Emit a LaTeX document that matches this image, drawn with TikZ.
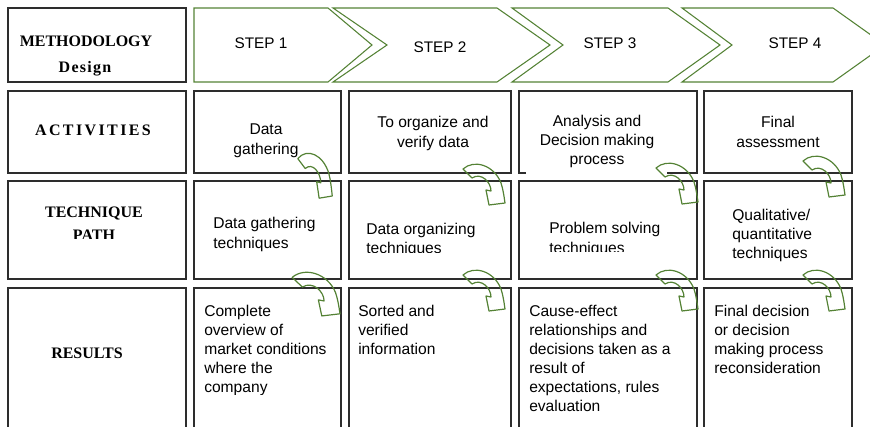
\documentclass[tikz,border=0pt]{standalone}
\usepackage{fontspec}
\newfontfamily\sansf{Liberation Sans}
\newfontfamily\serf{Liberation Serif}
\definecolor{gline}{RGB}{84,130,53}
\definecolor{bline}{RGB}{45,45,45}
\newcommand\bodyl[1]{\parbox[t]{170pt}{\raggedright\sansf\fontsize{11.7pt}{14.3pt}\selectfont #1}}
\newcommand\bodyc[1]{\parbox[t]{170pt}{\centering\sansf\fontsize{11.7pt}{14.3pt}\selectfont #1}}
\newcommand\labf{\serf\bfseries\fontsize{12pt}{17pt}\selectfont}
\tikzset{
  cellbox/.style={draw=bline, line width=1.2pt},
  chev/.style={draw=gline, line width=0.8pt},
  steptext/.style={inner sep=0pt, anchor=base, font=\sansf\fontsize{11.5pt}{13pt}\selectfont},
  lab/.style={inner sep=0pt, anchor=base, font=\labf},
  tl/.style={inner sep=0pt, anchor=base west},
  tc/.style={inner sep=0pt, anchor=base},
  garrow/.style={draw=gline, line width=0.9pt, line join=round},
  curvarrow/.pic={
    \draw[garrow] (1,6) .. controls (12,-4) and (32,2) .. (39,20)
      .. controls (41,26) and (42,33) .. (43,40) -- (27,42) -- (24,27) -- (29,28)
      .. controls (29,19) and (19,9) .. (10,15) -- cycle;
  }
}
\begin{document}
\begin{tikzpicture}[x=0.75pt,y=-0.75pt]
\useasboundingbox (0,0) rectangle (870,427);
\clip (0,0) rectangle (870,427);

% header
\draw[cellbox] (8,8) rectangle (186,82);
\node[lab] (meth) at (86,47) {METHODOLOGY};
\node[lab] (design) at (85,73) {\addfontfeature{LetterSpace=8}Design};

\draw[chev] (194,8) -- (328,8) -- (372,45) -- (328,82) -- (194,82) -- cycle;
\draw[chev] (333,8) -- (497,8) -- (550,45) -- (497,82) -- (333,82) -- (387,45) -- cycle;
\draw[chev] (512,8) -- (668,8) -- (720,45) -- (668,82) -- (512,82) -- (563,45) -- cycle;
\draw[chev] (682,8) -- (833,8) -- (885,45) -- (833,82) -- (682,82) -- (732,45) -- cycle;
\node[steptext] (s1) at (261,49) {STEP 1};
\node[steptext] (s2) at (440,53) {STEP 2};
\node[steptext] (s3) at (610,49) {STEP 3};
\node[steptext] (s4) at (795,49) {STEP 4};

% grid
\foreach \ya/\yb in {91/173, 181/279, 288/440}{
  \draw[cellbox] (8,\ya) rectangle (186,\yb);
  \draw[cellbox] (194,\ya) rectangle (341,\yb);
  \draw[cellbox] (349,\ya) rectangle (511,\yb);
  \draw[cellbox] (704,\ya) rectangle (852,\yb);
}
\draw[cellbox] (519,181) rectangle (697,279);
\draw[cellbox] (519,288) rectangle (697,440);
\draw[cellbox] (526,173) -- (519,173) -- (519,91) -- (697,91) -- (697,173) -- (667,173);

% row labels
\node[lab] (act) at (93,136) {\addfontfeature{LetterSpace=15}ACTIVITIES};
\node[lab] (tech) at (94,218) {TECHNIQUE};
\begin{scope}
  \clip (8,181) rectangle (186,238.5);
  \node[lab] (path) at (94,241) {PATH};
\end{scope}
\node[lab] (res) at (87,358) {RESULTS};

% row 1
\node[tc] (a1) at (266,135) {\bodyc{Data\\gathering}};
\node[tc] (a2) at (433,128) {\bodyc{To organize and\\verify data}};
\node[tc] (a3) at (597,126.5) {\bodyc{Analysis and\\Decision making\\process}};
\node[tc] (a4) at (778,128) {\bodyc{Final\\assessment}};

% row 2
\node[tl] (t1) at (213,229) {\bodyl{Data gathering\\techniques}};
\begin{scope}
  \clip (349,181) rectangle (511,252.5);
  \node[tl] (t2) at (366,234.5) {\bodyl{Data organizing\\techniques}};
\end{scope}
\begin{scope}
  \clip (519,181) rectangle (697,252);
  \node[tl] (t3) at (549,234) {\bodyl{Problem solving\\techniques}};
\end{scope}
\node[tl] (t4) at (732,220.5) {\bodyl{Qualitative/\\quantitative\\techniques}};

% row 3
\begin{scope}
  \clip (194,288) rectangle (341,394);
  \node[tl] (r1) at (204,316.5) {\bodyl{Complete\\overview of\\market conditions\\where the\\company}};
\end{scope}
\node[tl] (r2) at (358,316.5) {\bodyl{Sorted and\\verified\\information}};
\node[tl] (r3) at (529,316) {\bodyl{Cause-effect\\relationships and\\decisions taken as a\\result of\\expectations, rules\\evaluation}};
\node[tl] (r4) at (714,316.5) {\bodyl{Final decision\\or decision\\making process\\reconsideration}};

% curved arrows
\pic[xscale=0.82, yscale=1.1] at (297,152) {curvarrow};
\pic[xscale=1.14, yscale=1.07] at (291,271) {curvarrow};
\pic at (462,163) {curvarrow};
\pic at (462,269) {curvarrow};
\pic at (655,162) {curvarrow};
\pic at (655,269) {curvarrow};
\pic at (802,155) {curvarrow};
\pic at (802,269) {curvarrow};
\end{tikzpicture}
\end{document}
